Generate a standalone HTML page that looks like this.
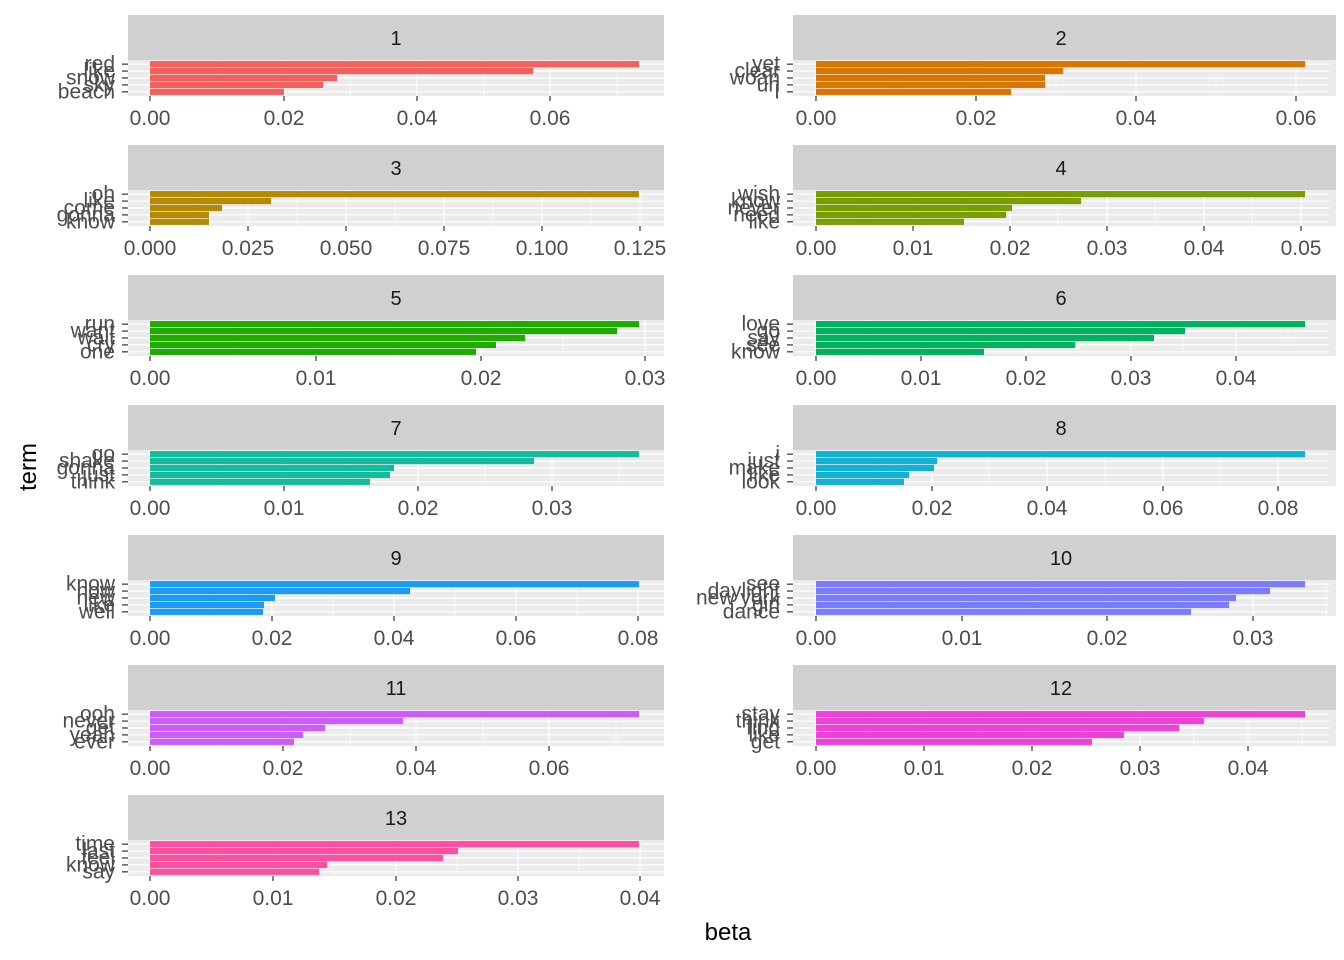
<!DOCTYPE html>
<html><head><meta charset="utf-8"><style>
html,body{margin:0;padding:0;background:#fff;}
svg{display:block;font-family:"Liberation Sans",Arial,sans-serif;}
.s{fill:#d0d0d0}.p{fill:#ebebeb}
.st{font-size:20px;fill:#1a1a1a;text-anchor:middle}
.yl{font-size:21px;fill:#4d4d4d;text-anchor:end;dominant-baseline:central}
.xl{font-size:21px;fill:#4d4d4d;text-anchor:middle}
.g{stroke:#fff;stroke-width:1.2}.gm{stroke:#fff;stroke-width:0.6}
.t{stroke:#333;stroke-width:1.2}
</style></head><body>
<svg width="1344" height="960" viewBox="0 0 1344 960">
<defs>
<g id="ypan">
<rect class="p" x="0" y="45" width="536" height="36"/>
<line class="g" x1="0" x2="536" y1="49.15" y2="49.15"/><line class="g" x1="0" x2="536" y1="56.07" y2="56.07"/><line class="g" x1="0" x2="536" y1="62.99" y2="62.99"/><line class="g" x1="0" x2="536" y1="69.91" y2="69.91"/><line class="g" x1="0" x2="536" y1="76.83" y2="76.83"/>
</g>
<g id="yt">
<line class="t" x1="-6" x2="0" y1="49.15" y2="49.15"/><line class="t" x1="-6" x2="0" y1="56.07" y2="56.07"/><line class="t" x1="-6" x2="0" y1="62.99" y2="62.99"/><line class="t" x1="-6" x2="0" y1="69.91" y2="69.91"/><line class="t" x1="-6" x2="0" y1="76.83" y2="76.83"/>
</g>
</defs>

<g transform="translate(128,15)">
<rect class="s" width="536" height="45"/><text class="st" x="268" y="30">1</text>
<use href="#ypan"/>
<g class="g"><line x1="22" x2="22" y1="45" y2="81"/><line x1="156" x2="156" y1="45" y2="81"/><line x1="289" x2="289" y1="45" y2="81"/><line x1="422" x2="422" y1="45" y2="81"/></g>
<g class="gm"><line x1="89" x2="89" y1="45" y2="81"/><line x1="222" x2="222" y1="45" y2="81"/><line x1="356" x2="356" y1="45" y2="81"/><line x1="489" x2="489" y1="45" y2="81"/></g>
<g fill="#F5605D"><rect x="22" y="46.05" width="489" height="6.2"/><rect x="22" y="52.97" width="383" height="6.2"/><rect x="22" y="59.89" width="187" height="6.2"/><rect x="22" y="66.81" width="173" height="6.2"/><rect x="22" y="73.73" width="134" height="6.2"/></g>
<use href="#yt"/>
<text class="yl" x="-13" y="49.15">red</text><text class="yl" x="-13" y="56.07">like</text><text class="yl" x="-13" y="62.99">snow</text><text class="yl" x="-13" y="69.91">sky</text><text class="yl" x="-13" y="76.83">beach</text>
<g class="t"><line x1="22" x2="22" y1="81" y2="86"/><line x1="156" x2="156" y1="81" y2="86"/><line x1="289" x2="289" y1="81" y2="86"/><line x1="422" x2="422" y1="81" y2="86"/></g>
<text class="xl" x="22" y="110">0.00</text><text class="xl" x="156" y="110">0.02</text><text class="xl" x="289" y="110">0.04</text><text class="xl" x="422" y="110">0.06</text>
</g>

<g transform="translate(793,15)">
<rect class="s" width="543" height="45"/><text class="st" x="268" y="30">2</text>
<use href="#ypan"/><rect class="p" x="536" y="45" width="7" height="36"/>
<g class="g"><line x1="23" x2="23" y1="45" y2="81"/><line x1="183" x2="183" y1="45" y2="81"/><line x1="343" x2="343" y1="45" y2="81"/><line x1="503" x2="503" y1="45" y2="81"/></g>
<g class="gm"><line x1="103" x2="103" y1="45" y2="81"/><line x1="263" x2="263" y1="45" y2="81"/><line x1="423" x2="423" y1="45" y2="81"/></g>
<g fill="#DA7600"><rect x="23" y="46.05" width="489" height="6.2"/><rect x="23" y="52.97" width="247" height="6.2"/><rect x="23" y="59.89" width="229" height="6.2"/><rect x="23" y="66.81" width="229" height="6.2"/><rect x="23" y="73.73" width="195" height="6.2"/></g>
<use href="#yt"/>
<text class="yl" x="-13" y="49.15">yet</text><text class="yl" x="-13" y="56.07">clear</text><text class="yl" x="-13" y="62.99">woah</text><text class="yl" x="-13" y="69.91">uh</text><text class="yl" x="-13" y="76.83">I</text>
<g class="t"><line x1="23" x2="23" y1="81" y2="86"/><line x1="183" x2="183" y1="81" y2="86"/><line x1="343" x2="343" y1="81" y2="86"/><line x1="503" x2="503" y1="81" y2="86"/></g>
<text class="xl" x="23" y="110">0.00</text><text class="xl" x="183" y="110">0.02</text><text class="xl" x="343" y="110">0.04</text><text class="xl" x="503" y="110">0.06</text>
</g>

<g transform="translate(128,145)">
<rect class="s" width="536" height="45"/><text class="st" x="268" y="30">3</text>
<use href="#ypan"/>
<g class="g"><line x1="22" x2="22" y1="45" y2="81"/><line x1="120" x2="120" y1="45" y2="81"/><line x1="218" x2="218" y1="45" y2="81"/><line x1="316" x2="316" y1="45" y2="81"/><line x1="414" x2="414" y1="45" y2="81"/><line x1="512" x2="512" y1="45" y2="81"/></g>
<g class="gm"><line x1="71" x2="71" y1="45" y2="81"/><line x1="169" x2="169" y1="45" y2="81"/><line x1="267" x2="267" y1="45" y2="81"/><line x1="365" x2="365" y1="45" y2="81"/><line x1="463" x2="463" y1="45" y2="81"/></g>
<g fill="#B38A00"><rect x="22" y="46.05" width="489" height="6.2"/><rect x="22" y="52.97" width="121" height="6.2"/><rect x="22" y="59.89" width="72" height="6.2"/><rect x="22" y="66.81" width="59" height="6.2"/><rect x="22" y="73.73" width="59" height="6.2"/></g>
<use href="#yt"/>
<text class="yl" x="-13" y="49.15">oh</text><text class="yl" x="-13" y="56.07">like</text><text class="yl" x="-13" y="62.99">come</text><text class="yl" x="-13" y="69.91">gonna</text><text class="yl" x="-13" y="76.83">know</text>
<g class="t"><line x1="22" x2="22" y1="81" y2="86"/><line x1="120" x2="120" y1="81" y2="86"/><line x1="218" x2="218" y1="81" y2="86"/><line x1="316" x2="316" y1="81" y2="86"/><line x1="414" x2="414" y1="81" y2="86"/><line x1="512" x2="512" y1="81" y2="86"/></g>
<text class="xl" x="22" y="110">0.000</text><text class="xl" x="120" y="110">0.025</text><text class="xl" x="218" y="110">0.050</text><text class="xl" x="316" y="110">0.075</text><text class="xl" x="414" y="110">0.100</text><text class="xl" x="512" y="110">0.125</text>
</g>

<g transform="translate(793,145)">
<rect class="s" width="543" height="45"/><text class="st" x="268" y="30">4</text>
<use href="#ypan"/><rect class="p" x="536" y="45" width="7" height="36"/>
<g class="g"><line x1="23" x2="23" y1="45" y2="81"/><line x1="120" x2="120" y1="45" y2="81"/><line x1="217" x2="217" y1="45" y2="81"/><line x1="314" x2="314" y1="45" y2="81"/><line x1="411" x2="411" y1="45" y2="81"/><line x1="508" x2="508" y1="45" y2="81"/></g>
<g class="gm"><line x1="71" x2="71" y1="45" y2="81"/><line x1="168" x2="168" y1="45" y2="81"/><line x1="265" x2="265" y1="45" y2="81"/><line x1="362" x2="362" y1="45" y2="81"/><line x1="459" x2="459" y1="45" y2="81"/></g>
<g fill="#7A9E00"><rect x="23" y="46.05" width="489" height="6.2"/><rect x="23" y="52.97" width="265" height="6.2"/><rect x="23" y="59.89" width="196" height="6.2"/><rect x="23" y="66.81" width="190" height="6.2"/><rect x="23" y="73.73" width="148" height="6.2"/></g>
<use href="#yt"/>
<text class="yl" x="-13" y="49.15">wish</text><text class="yl" x="-13" y="56.07">know</text><text class="yl" x="-13" y="62.99">never</text><text class="yl" x="-13" y="69.91">need</text><text class="yl" x="-13" y="76.83">like</text>
<g class="t"><line x1="23" x2="23" y1="81" y2="86"/><line x1="120" x2="120" y1="81" y2="86"/><line x1="217" x2="217" y1="81" y2="86"/><line x1="314" x2="314" y1="81" y2="86"/><line x1="411" x2="411" y1="81" y2="86"/><line x1="508" x2="508" y1="81" y2="86"/></g>
<text class="xl" x="23" y="110">0.00</text><text class="xl" x="120" y="110">0.01</text><text class="xl" x="217" y="110">0.02</text><text class="xl" x="314" y="110">0.03</text><text class="xl" x="411" y="110">0.04</text><text class="xl" x="508" y="110">0.05</text>
</g>

<g transform="translate(128,275)">
<rect class="s" width="536" height="45"/><text class="st" x="268" y="30">5</text>
<use href="#ypan"/>
<g class="g"><line x1="22" x2="22" y1="45" y2="81"/><line x1="188" x2="188" y1="45" y2="81"/><line x1="353" x2="353" y1="45" y2="81"/><line x1="517" x2="517" y1="45" y2="81"/></g>
<g class="gm"><line x1="105" x2="105" y1="45" y2="81"/><line x1="270" x2="270" y1="45" y2="81"/><line x1="435" x2="435" y1="45" y2="81"/></g>
<g fill="#1FAA00"><rect x="22" y="46.05" width="489" height="6.2"/><rect x="22" y="52.97" width="467" height="6.2"/><rect x="22" y="59.89" width="375" height="6.2"/><rect x="22" y="66.81" width="346" height="6.2"/><rect x="22" y="73.73" width="326" height="6.2"/></g>
<use href="#yt"/>
<text class="yl" x="-13" y="49.15">run</text><text class="yl" x="-13" y="56.07">want</text><text class="yl" x="-13" y="62.99">wait</text><text class="yl" x="-13" y="69.91">cry</text><text class="yl" x="-13" y="76.83">one</text>
<g class="t"><line x1="22" x2="22" y1="81" y2="86"/><line x1="188" x2="188" y1="81" y2="86"/><line x1="353" x2="353" y1="81" y2="86"/><line x1="517" x2="517" y1="81" y2="86"/></g>
<text class="xl" x="22" y="110">0.00</text><text class="xl" x="188" y="110">0.01</text><text class="xl" x="353" y="110">0.02</text><text class="xl" x="517" y="110">0.03</text>
</g>

<g transform="translate(793,275)">
<rect class="s" width="543" height="45"/><text class="st" x="268" y="30">6</text>
<use href="#ypan"/><rect class="p" x="536" y="45" width="7" height="36"/>
<g class="g"><line x1="23" x2="23" y1="45" y2="81"/><line x1="128" x2="128" y1="45" y2="81"/><line x1="233" x2="233" y1="45" y2="81"/><line x1="338" x2="338" y1="45" y2="81"/><line x1="443" x2="443" y1="45" y2="81"/></g>
<g class="gm"><line x1="75" x2="75" y1="45" y2="81"/><line x1="180" x2="180" y1="45" y2="81"/><line x1="285" x2="285" y1="45" y2="81"/><line x1="390" x2="390" y1="45" y2="81"/><line x1="495" x2="495" y1="45" y2="81"/></g>
<g fill="#00B160"><rect x="23" y="46.05" width="489" height="6.2"/><rect x="23" y="52.97" width="369" height="6.2"/><rect x="23" y="59.89" width="338" height="6.2"/><rect x="23" y="66.81" width="259" height="6.2"/><rect x="23" y="73.73" width="168" height="6.2"/></g>
<use href="#yt"/>
<text class="yl" x="-13" y="49.15">love</text><text class="yl" x="-13" y="56.07">go</text><text class="yl" x="-13" y="62.99">say</text><text class="yl" x="-13" y="69.91">see</text><text class="yl" x="-13" y="76.83">know</text>
<g class="t"><line x1="23" x2="23" y1="81" y2="86"/><line x1="128" x2="128" y1="81" y2="86"/><line x1="233" x2="233" y1="81" y2="86"/><line x1="338" x2="338" y1="81" y2="86"/><line x1="443" x2="443" y1="81" y2="86"/></g>
<text class="xl" x="23" y="110">0.00</text><text class="xl" x="128" y="110">0.01</text><text class="xl" x="233" y="110">0.02</text><text class="xl" x="338" y="110">0.03</text><text class="xl" x="443" y="110">0.04</text>
</g>

<g transform="translate(128,405)">
<rect class="s" width="536" height="45"/><text class="st" x="268" y="30">7</text>
<use href="#ypan"/>
<g class="g"><line x1="22" x2="22" y1="45" y2="81"/><line x1="156" x2="156" y1="45" y2="81"/><line x1="290" x2="290" y1="45" y2="81"/><line x1="424" x2="424" y1="45" y2="81"/></g>
<g class="gm"><line x1="89" x2="89" y1="45" y2="81"/><line x1="223" x2="223" y1="45" y2="81"/><line x1="357" x2="357" y1="45" y2="81"/><line x1="491" x2="491" y1="45" y2="81"/></g>
<g fill="#12BC9C"><rect x="22" y="46.05" width="489" height="6.2"/><rect x="22" y="52.97" width="384" height="6.2"/><rect x="22" y="59.89" width="244" height="6.2"/><rect x="22" y="66.81" width="240" height="6.2"/><rect x="22" y="73.73" width="220" height="6.2"/></g>
<use href="#yt"/>
<text class="yl" x="-13" y="49.15">go</text><text class="yl" x="-13" y="56.07">shake</text><text class="yl" x="-13" y="62.99">gonna</text><text class="yl" x="-13" y="69.91">just</text><text class="yl" x="-13" y="76.83">think</text>
<g class="t"><line x1="22" x2="22" y1="81" y2="86"/><line x1="156" x2="156" y1="81" y2="86"/><line x1="290" x2="290" y1="81" y2="86"/><line x1="424" x2="424" y1="81" y2="86"/></g>
<text class="xl" x="22" y="110">0.00</text><text class="xl" x="156" y="110">0.01</text><text class="xl" x="290" y="110">0.02</text><text class="xl" x="424" y="110">0.03</text>
</g>

<g transform="translate(793,405)">
<rect class="s" width="543" height="45"/><text class="st" x="268" y="30">8</text>
<use href="#ypan"/><rect class="p" x="536" y="45" width="7" height="36"/>
<g class="g"><line x1="23" x2="23" y1="45" y2="81"/><line x1="139" x2="139" y1="45" y2="81"/><line x1="254" x2="254" y1="45" y2="81"/><line x1="370" x2="370" y1="45" y2="81"/><line x1="485" x2="485" y1="45" y2="81"/></g>
<g class="gm"><line x1="81" x2="81" y1="45" y2="81"/><line x1="196" x2="196" y1="45" y2="81"/><line x1="312" x2="312" y1="45" y2="81"/><line x1="427" x2="427" y1="45" y2="81"/></g>
<g fill="#13B2D5"><rect x="23" y="46.05" width="489" height="6.2"/><rect x="23" y="52.97" width="121" height="6.2"/><rect x="23" y="59.89" width="118" height="6.2"/><rect x="23" y="66.81" width="93" height="6.2"/><rect x="23" y="73.73" width="88" height="6.2"/></g>
<use href="#yt"/>
<text class="yl" x="-13" y="49.15">i</text><text class="yl" x="-13" y="56.07">just</text><text class="yl" x="-13" y="62.99">make</text><text class="yl" x="-13" y="69.91">like</text><text class="yl" x="-13" y="76.83">look</text>
<g class="t"><line x1="23" x2="23" y1="81" y2="86"/><line x1="139" x2="139" y1="81" y2="86"/><line x1="254" x2="254" y1="81" y2="86"/><line x1="370" x2="370" y1="81" y2="86"/><line x1="485" x2="485" y1="81" y2="86"/></g>
<text class="xl" x="23" y="110">0.00</text><text class="xl" x="139" y="110">0.02</text><text class="xl" x="254" y="110">0.04</text><text class="xl" x="370" y="110">0.06</text><text class="xl" x="485" y="110">0.08</text>
</g>

<g transform="translate(128,535)">
<rect class="s" width="536" height="45"/><text class="st" x="268" y="30">9</text>
<use href="#ypan"/>
<g class="g"><line x1="22" x2="22" y1="45" y2="81"/><line x1="144" x2="144" y1="45" y2="81"/><line x1="266" x2="266" y1="45" y2="81"/><line x1="388" x2="388" y1="45" y2="81"/><line x1="510" x2="510" y1="45" y2="81"/></g>
<g class="gm"><line x1="83" x2="83" y1="45" y2="81"/><line x1="205" x2="205" y1="45" y2="81"/><line x1="327" x2="327" y1="45" y2="81"/><line x1="449" x2="449" y1="45" y2="81"/></g>
<g fill="#1A9CF2"><rect x="22" y="46.05" width="489" height="6.2"/><rect x="22" y="52.97" width="260" height="6.2"/><rect x="22" y="59.89" width="125" height="6.2"/><rect x="22" y="66.81" width="114" height="6.2"/><rect x="22" y="73.73" width="113" height="6.2"/></g>
<use href="#yt"/>
<text class="yl" x="-13" y="49.15">know</text><text class="yl" x="-13" y="56.07">now</text><text class="yl" x="-13" y="62.99">new</text><text class="yl" x="-13" y="69.91">like</text><text class="yl" x="-13" y="76.83">well</text>
<g class="t"><line x1="22" x2="22" y1="81" y2="86"/><line x1="144" x2="144" y1="81" y2="86"/><line x1="266" x2="266" y1="81" y2="86"/><line x1="388" x2="388" y1="81" y2="86"/><line x1="510" x2="510" y1="81" y2="86"/></g>
<text class="xl" x="22" y="110">0.00</text><text class="xl" x="144" y="110">0.02</text><text class="xl" x="266" y="110">0.04</text><text class="xl" x="388" y="110">0.06</text><text class="xl" x="510" y="110">0.08</text>
</g>

<g transform="translate(793,535)">
<rect class="s" width="543" height="45"/><text class="st" x="268" y="30">10</text>
<use href="#ypan"/><rect class="p" x="536" y="45" width="7" height="36"/>
<g class="g"><line x1="23" x2="23" y1="45" y2="81"/><line x1="169" x2="169" y1="45" y2="81"/><line x1="314" x2="314" y1="45" y2="81"/><line x1="460" x2="460" y1="45" y2="81"/></g>
<g class="gm"><line x1="96" x2="96" y1="45" y2="81"/><line x1="241" x2="241" y1="45" y2="81"/><line x1="387" x2="387" y1="45" y2="81"/><line x1="533" x2="533" y1="45" y2="81"/></g>
<g fill="#7B7BFF"><rect x="23" y="46.05" width="489" height="6.2"/><rect x="23" y="52.97" width="454" height="6.2"/><rect x="23" y="59.89" width="420" height="6.2"/><rect x="23" y="66.81" width="413" height="6.2"/><rect x="23" y="73.73" width="375" height="6.2"/></g>
<use href="#yt"/>
<text class="yl" x="-13" y="49.15">see</text><text class="yl" x="-13" y="56.07">daylight</text><text class="yl" x="-13" y="62.99">new york</text><text class="yl" x="-13" y="69.91">girl</text><text class="yl" x="-13" y="76.83">dance</text>
<g class="t"><line x1="23" x2="23" y1="81" y2="86"/><line x1="169" x2="169" y1="81" y2="86"/><line x1="314" x2="314" y1="81" y2="86"/><line x1="460" x2="460" y1="81" y2="86"/></g>
<text class="xl" x="23" y="110">0.00</text><text class="xl" x="169" y="110">0.01</text><text class="xl" x="314" y="110">0.02</text><text class="xl" x="460" y="110">0.03</text>
</g>

<g transform="translate(128,665)">
<rect class="s" width="536" height="45"/><text class="st" x="268" y="30">11</text>
<use href="#ypan"/>
<g class="g"><line x1="22" x2="22" y1="45" y2="81"/><line x1="155" x2="155" y1="45" y2="81"/><line x1="288" x2="288" y1="45" y2="81"/><line x1="421" x2="421" y1="45" y2="81"/></g>
<g class="gm"><line x1="89" x2="89" y1="45" y2="81"/><line x1="222" x2="222" y1="45" y2="81"/><line x1="355" x2="355" y1="45" y2="81"/><line x1="488" x2="488" y1="45" y2="81"/></g>
<g fill="#CB5BFA"><rect x="22" y="46.05" width="489" height="6.2"/><rect x="22" y="52.97" width="253" height="6.2"/><rect x="22" y="59.89" width="175" height="6.2"/><rect x="22" y="66.81" width="153" height="6.2"/><rect x="22" y="73.73" width="144" height="6.2"/></g>
<use href="#yt"/>
<text class="yl" x="-13" y="49.15">ooh</text><text class="yl" x="-13" y="56.07">never</text><text class="yl" x="-13" y="62.99">get</text><text class="yl" x="-13" y="69.91">yeah</text><text class="yl" x="-13" y="76.83">ever</text>
<g class="t"><line x1="22" x2="22" y1="81" y2="86"/><line x1="155" x2="155" y1="81" y2="86"/><line x1="288" x2="288" y1="81" y2="86"/><line x1="421" x2="421" y1="81" y2="86"/></g>
<text class="xl" x="22" y="110">0.00</text><text class="xl" x="155" y="110">0.02</text><text class="xl" x="288" y="110">0.04</text><text class="xl" x="421" y="110">0.06</text>
</g>

<g transform="translate(793,665)">
<rect class="s" width="543" height="45"/><text class="st" x="268" y="30">12</text>
<use href="#ypan"/><rect class="p" x="536" y="45" width="7" height="36"/>
<g class="g"><line x1="23" x2="23" y1="45" y2="81"/><line x1="131" x2="131" y1="45" y2="81"/><line x1="239" x2="239" y1="45" y2="81"/><line x1="347" x2="347" y1="45" y2="81"/><line x1="455" x2="455" y1="45" y2="81"/></g>
<g class="gm"><line x1="77" x2="77" y1="45" y2="81"/><line x1="185" x2="185" y1="45" y2="81"/><line x1="293" x2="293" y1="45" y2="81"/><line x1="401" x2="401" y1="45" y2="81"/><line x1="509" x2="509" y1="45" y2="81"/></g>
<g fill="#F040D8"><rect x="23" y="46.05" width="489" height="6.2"/><rect x="23" y="52.97" width="388" height="6.2"/><rect x="23" y="59.89" width="363" height="6.2"/><rect x="23" y="66.81" width="308" height="6.2"/><rect x="23" y="73.73" width="276" height="6.2"/></g>
<use href="#yt"/>
<text class="yl" x="-13" y="49.15">stay</text><text class="yl" x="-13" y="56.07">think</text><text class="yl" x="-13" y="62.99">find</text><text class="yl" x="-13" y="69.91">like</text><text class="yl" x="-13" y="76.83">get</text>
<g class="t"><line x1="23" x2="23" y1="81" y2="86"/><line x1="131" x2="131" y1="81" y2="86"/><line x1="239" x2="239" y1="81" y2="86"/><line x1="347" x2="347" y1="81" y2="86"/><line x1="455" x2="455" y1="81" y2="86"/></g>
<text class="xl" x="23" y="110">0.00</text><text class="xl" x="131" y="110">0.01</text><text class="xl" x="239" y="110">0.02</text><text class="xl" x="347" y="110">0.03</text><text class="xl" x="455" y="110">0.04</text>
</g>

<g transform="translate(128,795)">
<rect class="s" width="536" height="45"/><text class="st" x="268" y="30">13</text>
<use href="#ypan"/>
<g class="g"><line x1="22" x2="22" y1="45" y2="81"/><line x1="145" x2="145" y1="45" y2="81"/><line x1="268" x2="268" y1="45" y2="81"/><line x1="390" x2="390" y1="45" y2="81"/><line x1="512" x2="512" y1="45" y2="81"/></g>
<g class="gm"><line x1="83" x2="83" y1="45" y2="81"/><line x1="206" x2="206" y1="45" y2="81"/><line x1="329" x2="329" y1="45" y2="81"/><line x1="451" x2="451" y1="45" y2="81"/></g>
<g fill="#FF4FA0"><rect x="22" y="46.05" width="489" height="6.2"/><rect x="22" y="52.97" width="308" height="6.2"/><rect x="22" y="59.89" width="293" height="6.2"/><rect x="22" y="66.81" width="177" height="6.2"/><rect x="22" y="73.73" width="169" height="6.2"/></g>
<use href="#yt"/>
<text class="yl" x="-13" y="49.15">time</text><text class="yl" x="-13" y="56.07">last</text><text class="yl" x="-13" y="62.99">feel</text><text class="yl" x="-13" y="69.91">know</text><text class="yl" x="-13" y="76.83">say</text>
<g class="t"><line x1="22" x2="22" y1="81" y2="86"/><line x1="145" x2="145" y1="81" y2="86"/><line x1="268" x2="268" y1="81" y2="86"/><line x1="390" x2="390" y1="81" y2="86"/><line x1="512" x2="512" y1="81" y2="86"/></g>
<text class="xl" x="22" y="110">0.00</text><text class="xl" x="145" y="110">0.01</text><text class="xl" x="268" y="110">0.02</text><text class="xl" x="390" y="110">0.03</text><text class="xl" x="512" y="110">0.04</text>
</g>

<text x="728" y="940" font-size="24" text-anchor="middle" fill="#000">beta</text>
<text x="0" y="0" font-size="24" text-anchor="middle" fill="#000" transform="translate(36,467) rotate(-90)">term</text>
</svg>
</body></html>
